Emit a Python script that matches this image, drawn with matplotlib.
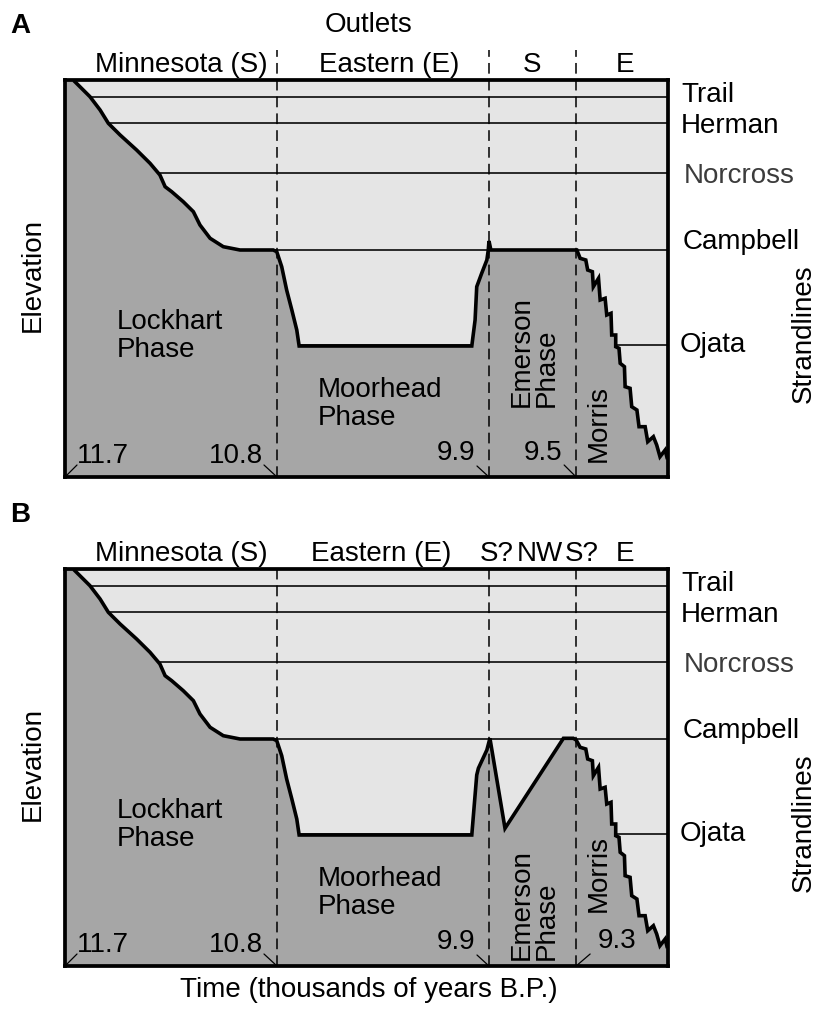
import numpy as np
import matplotlib.pyplot as plt

plt.rcParams['font.family'] = ['Liberation Sans', 'DejaVu Sans']
plt.rcParams['font.size'] = 20

W, H = 819, 1014

# time axis in thousands of years B.P. (older on the left), relative elevation
t_left, t_right = 11.7, 9.14
e_top = 397

outlet_times = [10.8, 9.9, 9.53]

strand_names = ['Trail', 'Herman', 'Norcross', 'Campbell', 'Ojata']
strand_elev = [380, 354, 304, 227, 132]
strand_colors = ['black', 'black', '#3c3c3c', 'black', 'black']
label_elev = [375, 344, 294, 228, 125]     # baseline of each name
label_time = [9.084, 9.084, 9.072, 9.080, 9.089]

# Lockhart + Moorhead phases (same in both panels)
early_t = [11.658, 11.594, 11.551, 11.516, 11.466, 11.396, 11.339, 11.297, 11.275,
           11.247, 11.198, 11.155, 11.127, 11.084, 11.028, 10.957, 10.816, 10.801,
           10.780, 10.759, 10.737, 10.716, 10.706, 9.973]
early_e = [395.3, 380.3, 367, 353.7, 342, 327, 313.7, 302, 290.3,
           285.3, 275.3, 265.3, 252, 238.7, 230.3, 227, 227, 225.3,
           210.3, 187, 167, 147, 131, 131]

# Emerson phase, version A (lake held at Campbell level)
emerson_a_t = [9.959, 9.952, 9.931, 9.909, 9.903, 9.900, 9.892, 9.527]
emerson_a_e = [157, 190.3, 203.7, 217, 227, 236, 227, 227]

# Emerson phase, version B (drop then rise)
emerson_b_t = [9.952, 9.945, 9.909, 9.896, 9.832, 9.584, 9.542, 9.530]
emerson_b_e = [191, 197.7, 216, 227.7, 137.7, 227.7, 227.7, 226]

# Morris phase, stepwise fall
morris_t = [9.513, 9.489, 9.481, 9.461, 9.457, 9.435, 9.428, 9.407, 9.400, 9.382,
            9.379, 9.362, 9.362, 9.348, 9.343, 9.325, 9.322, 9.301, 9.294, 9.272,
            9.263, 9.237, 9.226, 9.202, 9.188, 9.174, 9.152, 9.144, 9.140]
morris_e = [218.7, 217, 207, 205.3, 190.3, 198.7, 177, 178.7, 162, 163.7,
            142, 142, 130.3, 128.7, 113.7, 110.3, 90.3, 88.7, 70.3, 67,
            50.3, 50.3, 35.3, 40.3, 32, 20.3, 27, 19.3, 19.3]

panels = {
    'A': dict(mid_t=emerson_a_t, mid_e=emerson_a_e,
              outlets=['Minnesota (S)', 'Eastern (E)', 'S', 'E'],
              outlet_t=[11.207, 10.324, 9.717, 9.322],
              ages=['11.7', '10.8', '9.9', '9.5'],
              emerson_e=70, morris_e=15, dash_top=427),
    'B': dict(mid_t=emerson_b_t, mid_e=emerson_b_e,
              outlets=['Minnesota (S)', 'Eastern (E)', 'S?', 'NW', 'S?', 'E'],
              outlet_t=[11.207, 10.358, 9.866, 9.684, 9.507, 9.322],
              ages=['11.7', '10.8', '9.9', '9.3'],
              emerson_e=6, morris_e=54, dash_top=397),
}

light = '#e5e5e5'
dark = '#a6a6a6'

fig = plt.figure(figsize=(W / 100, H / 100), dpi=100)


def fx(x):
    return x / W


def fy(y):
    return 1 - y / H


for name, top_px in [('A', 80), ('B', 569)]:
    p = panels[name]
    ax = fig.add_axes([fx(65), fy(top_px + e_top), 603 / W, e_top / H])
    ax.set_xlim(t_left, t_right)
    ax.set_ylim(0, e_top)
    ax.set_facecolor(light)
    ax.set_xticks([])
    ax.set_yticks([])
    for s in ax.spines.values():
        s.set_linewidth(2.7)
        s.set_zorder(10)

    t = np.array(early_t + p['mid_t'] + morris_t)
    e = np.array(early_e + p['mid_e'] + morris_e)

    for el in strand_elev:
        ax.axhline(el, color='black', lw=1.15, zorder=1)
    poly_t = np.concatenate([[t_left, t_left], t, [t_right]])
    poly_e = np.concatenate([[0, e_top], e, [0]])
    ax.fill(poly_t, poly_e, color=dark, lw=0, zorder=2)
    ax.plot(t, e, color='black', lw=2.6, zorder=3, solid_joinstyle='miter')

    for ot in outlet_times:
        ax.plot([ot, ot], [0, p['dash_top']], color='black', lw=1.1,
                ls=(0, (7, 4)), zorder=4, clip_on=False)

    for nm, le, lt, c in zip(strand_names, label_elev, label_time, strand_colors):
        ax.text(lt, le, nm, color=c, ha='left', va='baseline', clip_on=False)

    for lab, ot in zip(p['outlets'], p['outlet_t']):
        ax.text(ot, 405, lab, ha='center', va='baseline', clip_on=False)

    ax.text(11.479, 148, 'Lockhart', ha='left', va='baseline')
    ax.text(11.479, 120, 'Phase', ha='left', va='baseline')
    ax.text(10.626, 80, 'Moorhead', ha='left', va='baseline')
    ax.text(10.626, 52, 'Phase', ha='left', va='baseline')
    ax.text(9.709, p['emerson_e'], 'Emerson\nPhase', rotation=90, ha='center',
            va='bottom', multialignment='left', linespacing=0.95)
    ax.text(9.432, p['morris_e'], 'Morris', rotation=90, ha='center', va='bottom')

    # age labels with small leader strokes to the outlet boundaries
    age_pos = [t_left] + outlet_times
    if name == 'A':
        leaders = [(12, 12, 'left', 14), (-13, 12, 'right', 14),
                   (-12, 11, 'right', 17), (-12, 12, 'right', 17)]
    else:
        leaders = [(12, 12, 'left', 14), (-13, 12, 'right', 14),
                   (-12, 11, 'right', 17), (14, 12, 'left', 18)]
    for lab, at, (dx, dy, ha, base) in zip(p['ages'], age_pos, leaders):
        ax.annotate('', xy=(at, 0), xytext=(dx, dy), textcoords='offset pixels',
                    arrowprops=dict(arrowstyle='-', lw=0.9, shrinkA=0, shrinkB=0,
                                    color='black'), zorder=5)
        tx = 12 if ha == 'left' else -14
        if name == 'B' and lab == '9.3':
            tx = 22
        ax.annotate(lab, xy=(at, 0), xytext=(tx, base), textcoords='offset pixels',
                    ha=ha, va='baseline')

    fig.text(fx(33), fy(top_px + 195), 'Elevation', rotation=90,
             ha='center', va='center')
    fig.text(fx(804), fy(top_px + 254), 'Strandlines', rotation=90,
             ha='center', va='center')
    fig.text(fx(10), fy(top_px - 47), name, fontweight='bold', ha='left',
             va='baseline')

fig.text(fx(369), fy(32), 'Outlets', ha='center', va='baseline')
fig.text(fx(369), fy(990), 'Time (thousands of years B.P.)', ha='center',
         va='center')

fig.savefig('out.png', dpi=100)
